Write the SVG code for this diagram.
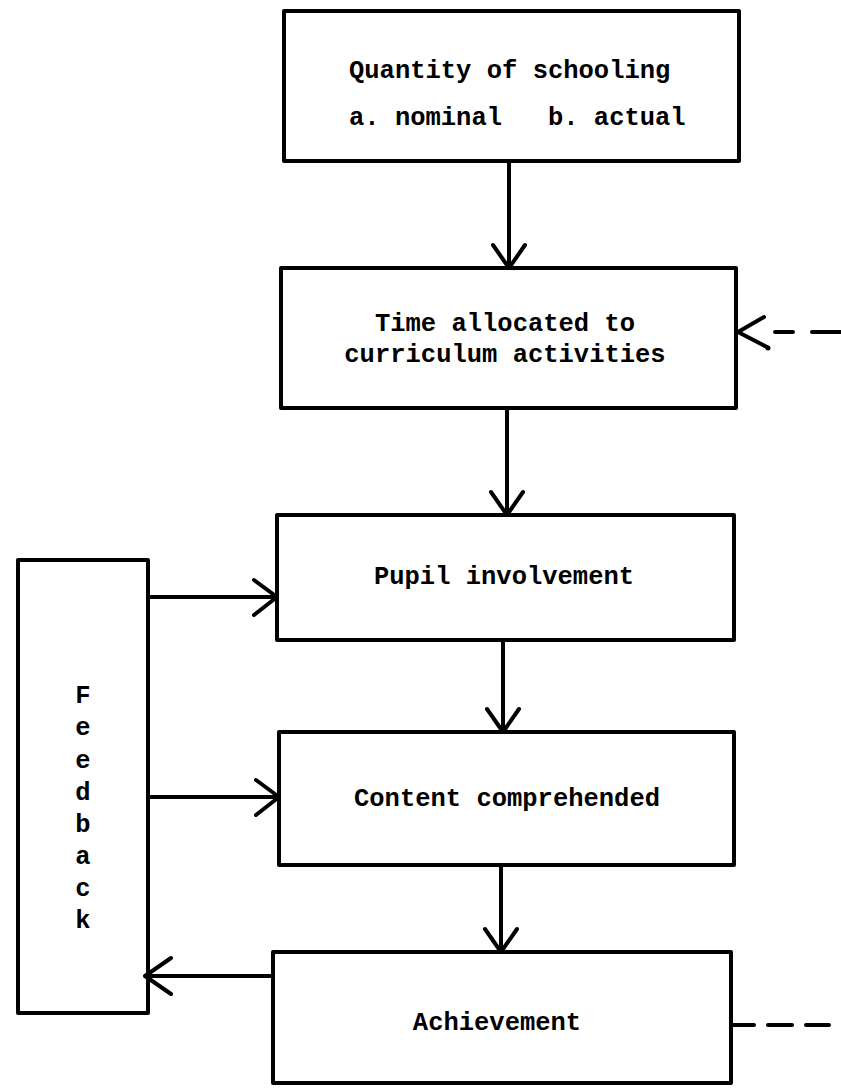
<svg xmlns="http://www.w3.org/2000/svg" width="841" height="1089" viewBox="0 0 841 1089">
<style>
.box{fill:#fff;stroke:#000;stroke-width:4;stroke-linejoin:round}
.ln{fill:none;stroke:#000;stroke-width:4;stroke-linecap:round;stroke-linejoin:round}
.t{font-family:"Liberation Mono","DejaVu Sans Mono",monospace;font-weight:bold;font-size:25.5px;fill:#000;white-space:pre}
.c{text-anchor:middle}
</style>
<rect width="841" height="1089" fill="#fff"/>
<g id="n-quantity">
<rect class="box" x="284" y="11" width="455" height="150"/>
<text class="t" x="349" y="78">Quantity of schooling</text>
<text class="t" x="349" y="125">a. nominal   b. actual</text>
</g>
<g id="n-time">
<rect class="box" x="281" y="268" width="455" height="140"/>
<text class="t c" x="505" y="331">Time allocated to</text>
<text class="t c" x="505" y="362">curriculum activities</text>
</g>
<g id="n-pupil">
<rect class="box" x="277" y="515" width="457" height="125"/>
<text class="t c" x="504" y="584">Pupil involvement</text>
</g>
<g id="n-content">
<rect class="box" x="279" y="732" width="455" height="133"/>
<text class="t c" x="507" y="806">Content comprehended</text>
</g>
<g id="n-achievement">
<rect class="box" x="273" y="952" width="458" height="131"/>
<text class="t c" x="497" y="1030">Achievement</text>
</g>
<g id="n-feedback">
<rect class="box" x="18" y="560" width="130" height="453"/>
<text class="t c" x="83" y="703">F</text>
<text class="t c" x="83" y="735">e</text>
<text class="t c" x="83" y="768">e</text>
<text class="t c" x="83" y="800">d</text>
<text class="t c" x="83" y="832">b</text>
<text class="t c" x="83" y="864">a</text>
<text class="t c" x="83" y="896">c</text>
<text class="t c" x="83" y="928">k</text>
</g>
<g id="connectors">
<path class="ln" d="M509 161V268M493 245L509 268L525 245"/>
<path class="ln" d="M507 408V515M491 492L507 515L523 492"/>
<path class="ln" d="M503 640V732M487 709L503 732L519 709"/>
<path class="ln" d="M501 865V952M485 929L501 952L517 929"/>
<path class="ln" d="M148 597H277M254 580L277 597L254 615"/>
<path class="ln" d="M148 797H279M256 780L279 797L256 815"/>
<path class="ln" d="M273 976H145M171 958L145 976L171 994"/>
<path class="ln" d="M764 317L738 332L767 347"/>
<circle cx="768" cy="348" r="2.5" fill="#000"/>
<path class="ln" d="M775 332H793M812 332H841"/>
<path class="ln" d="M731 1025H754M768 1025H792M806 1025H829"/>
</g>
</svg>
